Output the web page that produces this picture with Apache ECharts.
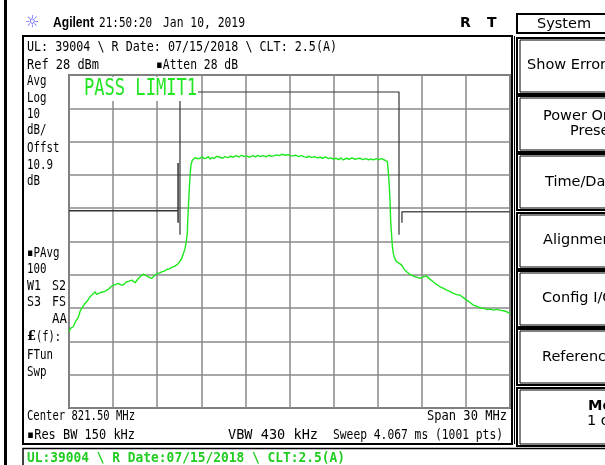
<!DOCTYPE html>
<html><head><meta charset="utf-8">
<script src="https://cdn.jsdelivr.net/npm/echarts@6/dist/echarts.min.js"></script>
<style>html,body{margin:0;padding:0;background:#fff}#c{width:605px;height:465px}</style>
</head><body><div id="c"></div>
<script>
// ---- instrument settings ----
const centerMHz = 821.5;
const spanMHz = 30;
const refLevelDbm = 28;
const dbPerDiv = 10;

const traceFreqMHz = [
806.50,806.62,806.79,806.95,807.13,807.25,807.36,807.48,807.59,807.75,807.93,808.10,808.27,808.38,808.49,808.66,808.83,809.00,809.17,809.35,
809.52,809.68,809.85,810.02,810.19,810.30,810.42,810.60,810.77,810.88,810.99,811.16,811.33,811.45,811.56,811.73,811.90,812.00,812.12,812.30,
812.47,812.64,812.81,812.98,813.15,813.32,813.49,813.60,813.71,813.83,813.94,814.05,814.17,814.25,814.32,814.40,814.46,814.55,814.58,814.64,
814.69,814.75,814.80,814.88,814.96,815.10,815.25,815.41,815.55,815.70,815.85,816.00,816.09,816.25,816.40,816.55,816.77,816.95,817.10,817.30,
817.50,817.68,817.85,818.05,818.25,818.40,818.59,818.80,819.00,819.20,819.35,819.49,819.70,819.90,820.10,820.25,820.40,820.60,820.80,820.95,
821.08,821.25,821.40,821.60,821.76,821.95,822.10,822.30,822.50,822.67,822.85,823.00,823.20,823.40,823.58,823.75,823.95,824.15,824.30,824.48,
824.65,824.85,825.00,825.16,825.39,825.55,825.75,825.95,826.10,826.30,826.50,826.70,826.90,827.05,827.20,827.40,827.60,827.75,827.88,828.00,
828.10,828.16,828.22,828.29,828.34,828.38,828.45,828.50,828.56,828.65,828.79,828.95,829.13,829.30,829.47,829.70,829.92,830.15,830.38,830.60,
830.83,831.05,831.28,831.50,831.74,831.95,832.19,832.40,832.65,832.85,833.10,833.30,833.56,833.80,834.01,834.25,834.46,834.70,834.92,835.15,
835.37,835.60,835.82,836.05,836.28,836.50];
const traceLevelDbm = [
-49.1,-48.0,-47.6,-46.0,-44.8,-43.0,-42.1,-41.5,-40.6,-39.8,-38.6,-37.9,-37.1,-37.9,-37.6,-37.3,-37.1,-36.8,-36.4,-35.6,
-35.1,-34.9,-34.6,-35.0,-35.1,-34.5,-34.1,-33.9,-33.6,-34.2,-34.4,-33.4,-32.6,-32.0,-31.8,-32.2,-32.6,-33.0,-33.1,-32.3,
-31.6,-31.5,-31.1,-30.9,-30.4,-30.2,-29.8,-29.3,-29.4,-28.9,-28.6,-28.0,-27.1,-26.5,-25.1,-24.0,-22.6,-19.5,-15.5,-10.0,
-5.5,-1.5,1.0,2.3,2.7,3.2,2.8,3.0,3.4,2.9,3.1,3.5,2.7,3.2,3.0,3.6,3.3,3.0,3.5,3.2,
3.6,3.3,3.8,3.4,3.9,3.5,3.7,3.3,3.8,3.4,3.9,3.5,3.8,3.4,3.9,3.6,3.7,4.0,3.8,4.2,
4.3,3.9,4.1,3.7,3.7,3.9,3.5,3.8,3.4,3.3,3.6,3.2,3.5,3.1,3.3,3.0,3.4,2.9,3.1,2.7,
3.0,2.6,3.1,2.5,3.0,2.7,3.1,2.7,2.9,3.0,2.6,2.9,2.5,2.8,2.5,2.9,2.6,2.9,2.7,2.4,
2.7,2.0,-1.0,-5.5,-10.0,-15.5,-20.5,-23.5,-25.5,-27.0,-28.1,-28.5,-29.1,-30.3,-31.1,-31.9,-32.4,-32.7,-33.1,-32.6,
-32.4,-33.3,-34.1,-34.9,-35.6,-36.0,-36.6,-37.0,-37.6,-37.9,-38.1,-38.8,-39.6,-40.4,-41.1,-41.5,-41.9,-42.1,-42.4,-42.3,
-42.6,-42.4,-42.6,-42.8,-43.1,-43.6];

// ---- limit line (PASS LIMIT1) ----
const limitLeftFreq  = [806.5, 813.92, 813.92, 813.92];
const limitLeftLevel = [-12.8, -12.8, -16.4, 1.6];
const limitMaskFreq  = [814.05, 814.05, 828.95, 828.95];
const limitMaskLevel = [-20.0, 22.9, 22.9, -20.0];
const limitRightFreq  = [829.15, 829.15, 836.5];
const limitRightLevel = [-16.4, -13.1, -13.1];

function pts(fs, ls){ return fs.map((f,i)=>[f-centerMHz, ls[i]-refLevelDbm]); }

const chart = echarts.init(document.getElementById('c'), null, {renderer:'canvas'});

const MONO = 'DejaVu Sans Mono';
function T(s, x, y, w, o){
  o = o || {};
  const fs = o.fs || 14.5;
  const fam = o.fam || MONO;
  const cw = o.cw || 0.602;
  const sx = w ? w/(s.length*cw*fs) : 1;
  return {type:'text', x:x, y:y, scaleX:sx, z:100,
    style:{text:s, fill:o.c||'#000', font:(o.b?'bold ':'')+fs+'px "'+fam+'"',
      textAlign:o.al||'left', align:o.al||'left', textVerticalAlign:'middle', verticalAlign:'middle'}};
}
function R(x,y,w,h,o){
  o=o||{};
  return {type:'rect', z:o.z||90, shape:{x:x,y:y,width:w,height:h},
    style:{fill:o.fill||'none', stroke:o.stroke||'#000', lineWidth:o.lw==null?1:o.lw}};
}

const g = [];
// left black bar
g.push(R(4,0,3,465,{fill:'#000',stroke:'none',lw:0}));
// header
g.push(T('\u263C',25,23,0,{fs:16,c:'#6060ff',fam:'DejaVu Sans'}));
g.push(T('Agilent',53,23,41,{fs:14,b:true,fam:'Liberation Sans',cw:0.484}));
g.push(T('21:50:20',99,23,53));
g.push(T('Jan 10, 2019',163,23,82));
g.push(T('R',460,23,0,{fs:14,b:true,fam:'DejaVu Sans'}));
g.push(T('T',487,23,0,{fs:14,b:true,fam:'DejaVu Sans'}));
// main box
g.push(R(23,36,489,408,{lw:2}));
g.push({type:'line',z:90,shape:{x1:514.5,y1:36,x2:514.5,y2:444},style:{stroke:'#000',lineWidth:1}});
g.push(T('UL: 39004 \\ R Date: 07/15/2018 \\ CLT: 2.5(A)',27,47,310));
g.push(T('Ref 28 dBm',27,65,72));
g.push(T('\u25AAAtten 28 dB',156,65,82));
// left annotations
const la = [['Avg',81],['Log',98],['10',114],['dB/',130],['Offst',148],['10.9',165],['dB',181],
            ['\u25AAPAvg',253],['100',269],['FTun',355],['Swp',372]];
la.forEach(a=>g.push(T(a[0],27,a[1],a[0].length*6.5)));
g.push(T('W1',27,286,14)); g.push(T('S2',52,286,14));
g.push(T('S3',27,302,14)); g.push(T('FS',52,302,14));
g.push(T('AA',67,319,15,{al:'right'}));
g.push(T('\u00A3',27,337,0,{fs:13,b:true,fam:'DejaVu Serif'}));
g.push(T('(f):',36,337,25));
// bottom annotations
g.push(T('Center 821.50 MHz',27,416,108));
g.push(T('Span 30 MHz',507,416,80,{al:'right'}));
g.push(T('\u25AARes BW 150 kHz',27,435,108));
g.push(T('VBW 430 kHz',228,435,90));
g.push(T('Sweep 4.067 ms (1001 pts)',333,435,170));
// green status bar
g.push(R(23,448.5,590,20,{lw:1.5}));
g.push(T('UL:39004 \\ R Date:07/15/2018 \\ CLT:2.5(A)',27,458,318,{b:true,c:'#22cc22'}));
// softkeys
g.push(R(517,14,95,19,{lw:2}));
g.push(T('System',537,24,0,{fs:14.5,fam:'DejaVu Sans'}));
const keys = [[38,94],[96,152],[154,210],[213,269],[271,327],[329,385],[388,446]];
keys.forEach(k=>{ g.push(R(517,k[0],95,k[1]-k[0],{lw:2})); g.push(R(520,k[0]+2,95,k[1]-k[0]-4,{lw:1})); });
const SK = {fs:14.5,fam:'DejaVu Sans'};
g.push(T('Show Errors',527,65,0,SK));
g.push(T('Power On/Off',543,116,0,SK));
g.push(T('Preset',570,131,0,SK));
g.push(T('Time/Date',545,182,0,SK));
g.push(T('Alignments',543,240,0,SK));
g.push(T('Config I/O',542,298,0,SK));
g.push(T('Reference',542,357,0,SK));
g.push(T('More',588,406,0,Object.assign({b:true},SK)));
g.push(T('1 of 3',587,421,0,SK));
// PASS LIMIT1 label with white background
g.push(R(70,77,128,24,{fill:'#fff',stroke:'none',lw:0,z:95}));
g.push(T('PASS LIMIT1',84,89,113,{fs:23,c:'#22e622'}));

const option = {
  animation:false,
  backgroundColor:'#fff',
  grid:{left:69, top:75, width:441, height:333, show:true, borderColor:'#666', borderWidth:2, backgroundColor:'#fff'},
  xAxis:{type:'value', min:-spanMHz/2, max:spanMHz/2, interval:spanMHz/10,
    axisLine:{show:false}, axisTick:{show:false}, axisLabel:{show:false},
    splitLine:{show:true, lineStyle:{color:'#8a8a8a', width:1.5}}},
  yAxis:{type:'value', min:-10*dbPerDiv, max:0, interval:dbPerDiv,
    axisLine:{show:false}, axisTick:{show:false}, axisLabel:{show:false},
    splitLine:{show:true, lineStyle:{color:'#8a8a8a', width:1.5}}},
  series:[
    {type:'line', name:'limitL', data:pts(limitLeftFreq,limitLeftLevel), symbol:'none', z:3,
      lineStyle:{color:'#333', width:1.5}},
    {type:'line', name:'limitM', data:pts(limitMaskFreq,limitMaskLevel), symbol:'none', z:3,
      lineStyle:{color:'#333', width:1.2}},
    {type:'line', name:'limitR', data:pts(limitRightFreq,limitRightLevel), symbol:'none', z:3,
      lineStyle:{color:'#555', width:1.5}},
    {type:'line', name:'trace', data:pts(traceFreqMHz,traceLevelDbm), symbol:'none', z:4,
      lineStyle:{color:'#1ee81e', width:1.4}}
  ],
  graphic:{elements:g}
};
chart.setOption(option);
</script>
</body></html>
